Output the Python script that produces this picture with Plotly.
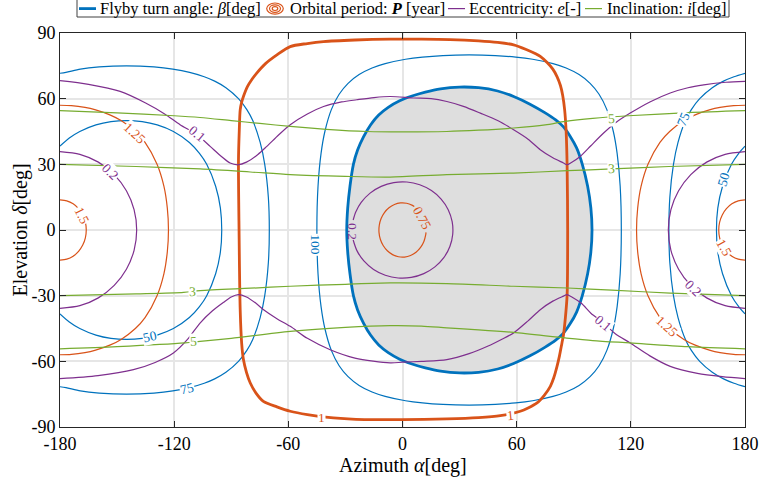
import plotly.graph_objects as go

# ---------------- data (degrees: azimuth alpha, elevation delta) ----------------
x_ticks = [-180, -120, -60, 0, 60, 120, 180]
x_tick_text = ['-180', '-120', '-60', '0', '60', '120', '180']
y_ticks = [-90, -60, -30, 0, 30, 60, 90]
y_tick_text = ['-90', '-60', '-30', '0', '30', '60', '90']

# flyby turn angle: thick boundary of the shaded region
beta_edge_alpha = [-29.3, -28.8, -27.6, -25.8, -23.6, -20.5, -16.8, -12.5, -7.5, -1.5, 5.0, 12.0, 20.0, 30.0, 40.0, 50.0, 58.4, 67.0, 75.0, 80.5, 84.5, 88.0, 91.5, 94.5, 97.3, 99.0, 99.6,
                   99.0, 97.3, 94.5, 91.5, 88.0, 84.5, 80.5, 75.0, 67.0, 58.4, 50.0, 40.0, 30.0, 20.0, 12.0, 5.0, -1.5, -7.5, -12.5, -16.8, -20.5, -23.6, -25.8, -27.6, -28.8, -29.3]
beta_edge_delta = [0, 10, 20, 30, 36.5, 42.5, 48, 52.5, 56, 59, 61.2, 63, 64.5, 65.3, 65, 63.5, 61, 57.5, 53.5, 50.3, 47.2, 43, 37.5, 30, 20, 10, 0,
                   -10, -20, -30, -37.5, -43, -47.2, -50.3, -53.5, -57.5, -61, -63.5, -65, -65.3, -64.5, -63, -61.2, -59, -56, -52.5, -48, -42.5, -36.5, -30, -20, -10, 0]

# beta = 100 deg
beta100_alpha = [-45.0, -44.4, -42.8, -40.8, -37.4, -33.3, -28.6, -22.8, -16.0, -9.1, 1.6, 10.5, 21.2, 35.0, 48.8, 59.5, 68.4, 79.1, 86.0, 92.8, 98.6, 103.3, 107.4, 110.8, 112.8, 114.4, 115.0,
                 114.4, 112.8, 110.8, 107.4, 103.3, 98.6, 92.8, 86.0, 79.1, 68.4, 59.5, 48.8, 35.0, 21.2, 10.5, 1.6, -9.1, -16.0, -22.8, -28.6, -33.3, -37.4, -40.8, -42.8, -44.4, -45.0]
beta100_delta = [0, 20, 35, 45, 55, 62, 67, 71, 74, 76, 78, 79, 79.7, 80, 79.7, 79, 78, 76, 74, 71, 67, 62, 55, 45, 35, 20, 0,
                 -20, -35, -45, -55, -62, -67, -71, -74, -76, -78, -79, -79.7, -80, -79.7, -79, -78, -76, -74, -71, -67, -62, -55, -45, -35, -20, 0]

# beta = 75 deg (left and right pieces)
beta75_left_alpha = [-180, -176.9, -169.3, -159.4, -145, -130.6, -120.7, -111.9, -104.2, -98.7, -92.8, -86.2, -81.8, -78.7, -74.8, -72.4, -70.5, -70.0,
                     -70.5, -72.4, -74.8, -78.7, -81.8, -86.2, -92.8, -98.7, -104.2, -111.9, -120.7, -130.6, -145, -159.4, -169.3, -176.9, -180]
beta75_left_delta = [71.6, 72, 73.5, 74.5, 75, 74.5, 73.5, 72, 70, 68, 65, 60, 55, 50, 40, 30, 15, 0,
                     -15, -30, -40, -50, -55, -60, -65, -68, -70, -72, -73.5, -74.5, -75, -74.5, -73.5, -72, -71.6]
beta75_right_alpha = [180, 174.2, 168.7, 162.8, 156.2, 151.8, 148.7, 144.8, 142.4, 140.5, 140.0, 140.5, 142.4, 144.8, 148.7, 151.8, 156.2, 162.8, 168.7, 174.2, 180]
beta75_right_delta = [71.6, 70, 68, 65, 60, 55, 50, 40, 30, 15, 0, -15, -30, -40, -50, -55, -60, -65, -68, -70, -71.6]

# beta = 50 deg
beta50_left_alpha = [-180, -175.1, -169.6, -161.1, -153.2, -145, -136.8, -128.9, -120.4, -112, -106.7, -102.9, -98.2, -95.7, -95,
                     -95.7, -98.2, -102.9, -106.7, -112, -120.4, -128.9, -136.8, -145, -153.2, -161.1, -169.6, -175.1, -180]
beta50_left_delta = [38.3, 42, 45, 48, 49.5, 50, 49.5, 48, 45, 40, 35, 30, 20, 10, 0,
                     -10, -20, -30, -35, -40, -45, -48, -49.5, -50, -49.5, -48, -45, -42, -38.3]
beta50_right_alpha = [180, 176.7, 172.9, 168.2, 165.7, 165, 165.7, 168.2, 172.9, 176.7, 180]
beta50_right_delta = [38.3, 35, 30, 20, 10, 0, -10, -20, -30, -35, -38.3]

# orbital period P = 1 year (thick)
period1_alpha = [-86.2, -85.8, -85.3, -84.5, -83.6, -81.5, -79.0, -76.6, -72.0, -66.0, -59.0, -50.0, -41.5, -25.0, -6.5, 10.0, 25.0, 40.0, 50.0, 58.4, 65.0, 70.0, 72.4, 76.0, 79.0, 81.2, 83.0, 84.2, 85.2, 86.0, 86.5, 86.8,
                 86.5, 85.5, 84.6, 83.8, 82.5, 81.2, 79.5, 77.7, 74.5, 70.7, 66.0, 61.9, 51.4, 40.0, 23.3, 0.0, -20.0, -36.3, -50.0, -59.0, -66.0, -73.1, -77.0, -80.0, -82.0, -83.6, -84.5, -85.3, -85.9, -86.2]
period1_delta = [32, 45, 54.9, 58.5, 61, 65.5, 69, 71.7, 76, 80, 83.8, 85.2, 86.1, 86.8, 87.2, 87.2, 87, 86.4, 85.7, 84.6, 82.5, 80.5, 79.3, 76.5, 73.5, 70.1, 66, 61.5, 55, 45, 30, 0,
                 -30, -41, -48, -51.6, -57.5, -62.3, -67.5, -71.4, -75.5, -79, -81.3, -82.8, -84.8, -85.7, -86.3, -86.6, -86.6, -85.8, -84.3, -82.8, -80.8, -78.3, -74.5, -69.9, -65, -59.2, -52, -36.4, 0, 32]

# P = 0.75 year (open where its label sits)
period075_alpha = [6.2, 5.24, 2.15, -1.08, -4.24, -7.11, -9.50, -11.24, -12.21, -12.35, -11.65, -10.16, -7.97, -5.24, -2.15, 1.08, 4.24, 7.11, 9.50, 11.24, 12.21, 12.35]
period075_delta = [10.74, 11.24, 12.21, 12.35, 11.65, 10.16, 7.97, 5.24, 2.15, -1.08, -4.24, -7.11, -9.50, -11.24, -12.21, -12.35, -11.65, -10.16, -7.97, -5.24, -2.15, -1.08]

# P = 1.25 year
period125_left_alpha = [-180, -174, -166.9, -161.7, -153.5, -147.9, -140.4, -135.3, -129, -125.4, -123.6, -123, -123.6, -125.4, -129, -135.3, -140.4, -147.9, -153.5, -161.7, -166.9, -174, -180]
period125_left_delta = [57, 56.8, 56, 55, 52.5, 50, 45, 40, 30, 20, 10, 0, -10, -20, -30, -40, -45, -50, -52.5, -55, -56, -56.8, -57]
period125_right_alpha = [180, 174, 166.9, 161.7, 153.5, 147.9, 140.4, 135.3, 129, 125.4, 123.6, 123, 123.6, 125.4, 129, 135.3, 140.4, 147.9, 153.5, 161.7, 166.9, 174, 180]
period125_right_delta = [57, 56.8, 56, 55, 52.5, 50, 45, 40, 30, 20, 10, 0, -10, -20, -30, -40, -45, -50, -52.5, -55, -56, -56.8, -57]

# P = 1.5 year
period15_left_alpha = [-180, -176.43, -173.1, -170.24, -168.05, -166.67, -166.2, -166.67, -168.05, -170.24, -173.1, -176.43, -180]
period15_left_delta = [13.8, 13.33, 11.95, 9.76, 6.9, 3.57, 0, -3.57, -6.9, -9.76, -11.95, -13.33, -13.8]
period15_right_alpha = [180, 176.43, 173.1, 170.24, 168.05, 166.67, 166.2, 166.67, 168.05, 170.24, 173.1, 176.43, 180]
period15_right_delta = [13.8, 13.33, 11.95, 9.76, 6.9, 3.57, 0, -3.57, -6.9, -9.76, -11.95, -13.33, -13.8]

# eccentricity e = 0.2 (centre loop is open where its label sits)
ecc02_center_alpha = [-25.92, -24.02, -20.30, -15.20, -9.06, -2.31, 4.60, 11.20, 17.03, 21.71, 24.90, 26.40, 26.10, 24.02, 20.30, 15.20, 9.06, 2.31, -4.60, -11.20, -17.03, -21.71, -24.57, -25.92]
ecc02_center_delta = [-4.57, -9.30, -14.14, -18.02, -20.67, -21.92, -21.67, -19.94, -16.85, -12.62, -7.52, -1.92, 3.82, 9.30, 14.14, 18.02, 20.67, 21.92, 21.67, 19.94, 16.85, 12.62, 8.24, 4.57]
ecc02_left_alpha = [-180, -169.57, -159.85, -151.5, -145.1, -141.07, -139.7, -141.07, -145.1, -151.5, -159.85, -169.57, -180]
ecc02_left_delta = [35.8, 34.58, 31.0, 25.31, 17.9, 9.27, 0, -9.27, -17.9, -25.31, -31.0, -34.58, -35.8]
ecc02_right_alpha = [180, 169.57, 159.85, 151.5, 145.1, 141.07, 139.7, 141.07, 145.1, 151.5, 159.85, 169.57, 180]
ecc02_right_delta = [35.8, 34.58, 31.0, 25.31, 17.9, 9.27, 0, -9.27, -17.9, -25.31, -31.0, -34.58, -35.8]

# eccentricity e = 0.1
ecc01_upper_alpha = [-180, -165, -148.4, -135, -125, -116.9, -108, -101.1, -95, -90.6, -86.3, -82, -76, -71.3, -65, -59, -50, -41.5, -32, -24, -15, -6.5, 5.8, 15, 23.3, 32, 40.9, 50, 58.4, 66, 72.4, 79, 84.6, 86.4, 89, 93.4, 99, 105.7, 112, 119.7, 130, 140.7, 150, 158.3, 170, 180]
ecc01_upper_delta = [68.2, 66.5, 63.3, 58, 53, 48.1, 43.5, 38.2, 33.5, 30.6, 29.8, 31, 34.5, 38.2, 43.5, 48.1, 53, 56.4, 58.5, 59.5, 60.5, 61, 60.3, 60, 58.7, 56.5, 53.4, 50, 45.8, 41.5, 36.7, 33, 30.6, 29.8, 31, 33.6, 38.5, 44.3, 49, 53.4, 58.5, 62.6, 65, 66.3, 67.5, 67.9]
ecc01_lower_alpha = [-180, -160, -141.4, -130, -120.4, -113, -106.4, -100, -94, -90, -86.3, -82, -77, -73, -66, -59, -50, -38, -25, -6.5, 0, 10, 23.3, 35, 45, 52, 58.4, 66, 72.4, 79, 84.6, 86.4, 89, 94, 99, 105.7, 112, 119.7, 130, 140.7, 155, 168, 180]
ecc01_lower_delta = [-67.9, -66.5, -63.8, -60.5, -56.2, -50, -42.5, -37, -33, -30.6, -29.5, -30.6, -33.5, -36.4, -40.5, -44, -49.5, -54.7, -58.5, -60.7, -60.4, -60, -59.2, -56.5, -53, -50, -47, -41.5, -36.4, -32.5, -30.2, -29.5, -30.6, -33.5, -38, -42.5, -47.5, -51.6, -57.5, -62.3, -65.5, -67, -67.9]

# inclination i = 5 deg and 3 deg
incl5_upper_alpha = [-180, -150, -120, -106.4, -90, -75, -59, -40, -18.7, 0, 23.3, 40, 58.4, 75, 85.5, 100, 118.8, 150, 180]
incl5_upper_delta = [54.5, 53.5, 52.2, 51.4, 50.0, 48.7, 47.3, 46.0, 45.0, 44.8, 45.0, 45.6, 46.6, 48.0, 49.6, 51.0, 52.2, 53.6, 54.5]
incl5_lower_alpha = [-180, -150, -114.2, -106.4, -90, -59, -30, -6.5, 10, 23.3, 40, 58.4, 85.5, 100, 119.7, 150, 180]
incl5_lower_delta = [-54.3, -53.3, -51.6, -50.9, -49.5, -46.3, -44.5, -43.7, -43.9, -44.7, -45.6, -46.8, -49.3, -50.5, -51.6, -53.3, -54.3]
incl3_upper_alpha = [-180, -140, -106.4, -80, -59, -30, -6.5, 23.3, 58.4, 86.8, 110, 140, 180]
incl3_upper_delta = [30, 29, 27.9, 26.5, 25.3, 24.5, 24.2, 25.3, 26, 27.1, 27.9, 29, 30]
incl3_lower_alpha = [-180, -140, -115, -106.4, -80, -59, -30, -6.5, 23.3, 58.4, 86.8, 110, 140.7, 180]
incl3_lower_delta = [-30, -29.2, -28.5, -27.7, -26.6, -25.7, -24.8, -24.2, -24.5, -25.7, -26.5, -27.5, -28.8, -30]

# contour labels
label_text = ['1.25', '1.25', '1.5', '1.5', '0.2', '0.2', '0.1', '0.1', '100', '0.2', '0.75', '50', '75', '75', '50', '1', '1', '5', '3', '5', '3']
label_alpha = [-140.5, 139.0, -168.6, 168.8, -153.7, 153.0, -108.0, 105.7, -45.9, -26.0, 10.4, -132.6, -113.3, 147.7, 168.8, -42.4, 56.6, 110.0, 110.0, -109.9, -110.2]
label_delta = [44.3, -44.0, 6.5, -8.2, 26.8, -26.5, 44.3, -42.5, -6.6, -0.5, 5.3, -48.6, -72.2, 50.4, 23.0, -85.8, -84.8, 51.1, 27.9, -51.1, -28.3]

# ---------------- styling ----------------
BLUE, ORANGE, PURPLE, GREEN = '#0072BD', '#D95319', '#7E2F8E', '#77AC30'
SHADE = '#DEDEDE'
SERIF = 'Liberation Serif, Times New Roman, serif'
THIN, THICK = 1.2, 2.8

W, H = 759, 484
ML, MR, MT, MB = 60, 14, 33, 57
PW, PH = W - ML - MR, H - MT - MB


def px_x(px):
    return (px - ML) / PW


def px_y(py):
    return (H - MB - py) / PH


fig = go.Figure()


def add_curve(a, d, color, width, fill=None):
    fig.add_trace(go.Scatter(
        x=a, y=d, mode='lines',
        line=dict(color=color, width=width, shape='spline', smoothing=0.8),
        fill='toself' if fill else None, fillcolor=fill,
        hoverinfo='skip', showlegend=False))


add_curve(beta_edge_alpha, beta_edge_delta, BLUE, 0.01, fill=SHADE)
for a, d in [(beta100_alpha, beta100_delta), (beta75_left_alpha, beta75_left_delta),
             (beta75_right_alpha, beta75_right_delta), (beta50_left_alpha, beta50_left_delta),
             (beta50_right_alpha, beta50_right_delta)]:
    add_curve(a, d, BLUE, THIN)
add_curve(beta_edge_alpha, beta_edge_delta, BLUE, THICK)

for a, d in [(period075_alpha, period075_delta), (period125_left_alpha, period125_left_delta),
             (period125_right_alpha, period125_right_delta), (period15_left_alpha, period15_left_delta),
             (period15_right_alpha, period15_right_delta)]:
    add_curve(a, d, ORANGE, THIN)
add_curve(period1_alpha, period1_delta, ORANGE, THICK)

for a, d in [(ecc02_center_alpha, ecc02_center_delta), (ecc02_left_alpha, ecc02_left_delta),
             (ecc02_right_alpha, ecc02_right_delta), (ecc01_upper_alpha, ecc01_upper_delta),
             (ecc01_lower_alpha, ecc01_lower_delta)]:
    add_curve(a, d, PURPLE, THIN)

for a, d in [(incl5_upper_alpha, incl5_upper_delta), (incl5_lower_alpha, incl5_lower_delta),
             (incl3_upper_alpha, incl3_upper_delta), (incl3_lower_alpha, incl3_lower_delta)]:
    add_curve(a, d, GREEN, THIN)

label_color = [ORANGE, ORANGE, ORANGE, ORANGE, PURPLE, PURPLE, PURPLE, PURPLE, BLUE, PURPLE, ORANGE,
               BLUE, BLUE, BLUE, BLUE, ORANGE, ORANGE, GREEN, GREEN, GREEN, GREEN]
label_angle = [42, 42, 63, 60, 45, 45, 40, 40, 90, 90, 62, -12, -14, -68, -73, 0, -6, -3, -2, -2, -2]
CLEAR = 'rgba(0,0,0,0)'
label_bg = ['white'] * 9 + [CLEAR, CLEAR] + ['white'] * 10

annotations = []
for t, a, d, c, ang, bg in zip(label_text, label_alpha, label_delta, label_color, label_angle, label_bg):
    annotations.append(dict(x=a, y=d, xref='x', yref='y', text=t, showarrow=False,
                            textangle=ang, font=dict(family=SERIF, size=13.5, color=c),
                            bgcolor=bg, borderpad=0, xanchor='center', yanchor='middle'))

# axis titles
annotations.append(dict(x=0.5, y=px_y(465), xref='paper', yref='paper', showarrow=False,
                        text='Azimuth <i>α</i>[deg]', font=dict(family=SERIF, size=20, color='black'),
                        xanchor='center', yanchor='middle'))
annotations.append(dict(x=px_x(19.5), y=0.5, xref='paper', yref='paper', showarrow=False, textangle=-90,
                        text='Elevation <i>δ</i>[deg]', font=dict(family=SERIF, size=20, color='black'),
                        xanchor='center', yanchor='middle'))

# legend (drawn by hand to mimic the original)
LEG_Y = 8.6
shapes = [dict(type='rect', xref='paper', yref='paper', x0=px_x(77), x1=px_x(729), y0=px_y(17), y1=px_y(-1),
               line=dict(color='#404040', width=1), fillcolor='white', layer='above')]
for (x0, x1, col, w) in [(79, 96, BLUE, THICK), (448, 465, PURPLE, THIN), (585, 602, GREEN, THIN)]:
    shapes.append(dict(type='line', xref='paper', yref='paper', x0=px_x(x0), x1=px_x(x1),
                       y0=px_y(LEG_Y), y1=px_y(LEG_Y), line=dict(color=col, width=w), layer='above'))
for rx, ry in [(8.3, 5.6), (5.5, 3.7), (2.8, 1.9)]:
    shapes.append(dict(type='circle', xref='paper', yref='paper', x0=px_x(275 - rx), x1=px_x(275 + rx),
                       y0=px_y(LEG_Y + ry), y1=px_y(LEG_Y - ry), line=dict(color=ORANGE, width=1.2),
                       layer='above'))
for x0, txt in [(97.5, 'Flyby turn angle: <i>β</i>[deg]'), (287.7, 'Orbital period: <b><i>P</i></b> [year]'),
                (467.3, 'Eccentricity: <i>e</i>[-]'), (605, 'Inclination: <i>i</i>[deg]')]:
    annotations.append(dict(x=px_x(x0), y=px_y(LEG_Y), xref='paper', yref='paper', showarrow=False,
                            text=txt, font=dict(family=SERIF, size=16.5, color='black'),
                            xanchor='left', yanchor='middle'))

axis_common = dict(showgrid=True, gridcolor='#E6E6E6', gridwidth=1.5, zeroline=False,
                   showline=True, linecolor='#262626', linewidth=1, mirror='allticks',
                   ticks='inside', ticklen=6, tickwidth=1, tickcolor='#262626', automargin=False,
                   tickfont=dict(family=SERIF, size=18, color='black'), layer='above traces')

fig.update_layout(
    width=W, height=H, margin=dict(l=ML, r=MR, t=MT, b=MB, autoexpand=False),
    paper_bgcolor='white', plot_bgcolor='white',
    xaxis=dict(range=[-180, 180], tickvals=x_ticks, ticktext=x_tick_text, **axis_common),
    yaxis=dict(range=[-90, 90], tickvals=y_ticks, ticktext=y_tick_text, **axis_common),
    annotations=annotations, shapes=shapes, showlegend=False,
)

fig.write_html('out.html')
